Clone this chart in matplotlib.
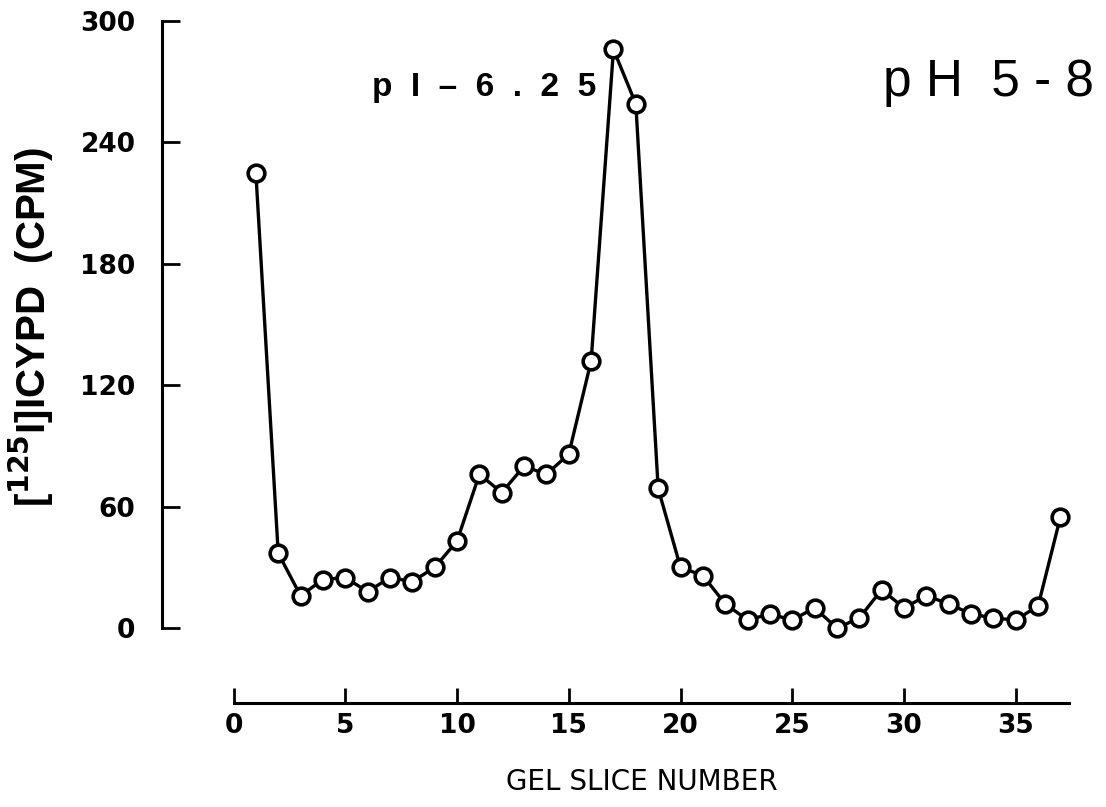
import matplotlib
matplotlib.use("Agg")
import matplotlib.pyplot as plt

# gel slice number vs counts
slices = list(range(1, 38))
cpm = [225, 37, 16, 24, 25, 18, 25, 23, 30, 43,
       76, 67, 80, 76, 86, 132, 286, 259, 69, 30,
       26, 12, 4, 7, 4, 10, 0, 5, 19, 10,
       16, 12, 7, 5, 4, 11, 55]

xticks = [0, 5, 10, 15, 20, 25, 30, 35]
yticks = [0, 60, 120, 180, 240, 300]

W, H = 1106, 807
fig = plt.figure(figsize=(W / 100, H / 100), dpi=100)
ax_w, ax_h = 1094 - 162, 703 - 21
ax = fig.add_axes([162 / W, 104 / H, ax_w / W, ax_h / H])

ax.plot(slices, cpm, color="black", lw=2.4, marker="o", ms=12,
        mfc="white", mec="black", mew=2.6, zorder=3)

ax.set_xlim(-3.2, 38.5)
ax.set_ylim(-37, 300)

for s in ["top", "right"]:
    ax.spines[s].set_visible(False)
ax.spines["left"].set_bounds(0, 300)
ax.spines["bottom"].set_bounds(0, 37.4)
ax.spines["left"].set_linewidth(2.2)
ax.spines["bottom"].set_linewidth(2.2)

ax.set_xticks(xticks)
ax.set_yticks(yticks)
ax.tick_params(axis="y", direction="in", length=13, width=2, pad=19,
               labelsize=19)
ax.tick_params(axis="x", direction="in", length=11, width=2, pad=7,
               labelsize=19)
for lab in ax.get_xticklabels() + ax.get_yticklabels():
    lab.set_fontweight("bold")

ax.set_xlabel("GEL SLICE NUMBER", fontsize=20)
ax.xaxis.set_label_coords((642 - 162) / ax_w, -(768 - 703) / ax_h)
ax.set_ylabel(r"[$^{\mathbf{125}}$I]ICYPD  (CPM)", fontsize=29, fontweight="bold",
              family="Liberation Sans")
ax.yaxis.set_label_coords(-(162 - 56) / ax_w, (703 - 327) / ax_h)

ax.text(11.2, 267, "p  I  –  6  .  2  5", fontsize=24, ha="center", va="center",
        family="Liberation Sans", fontweight="bold")
ax.text(1.0, 0.91, "p H  5 - 8", transform=ax.transAxes, fontsize=37,
        ha="right", va="center", family="Liberation Sans")

fig.savefig("out.png", dpi=100)
